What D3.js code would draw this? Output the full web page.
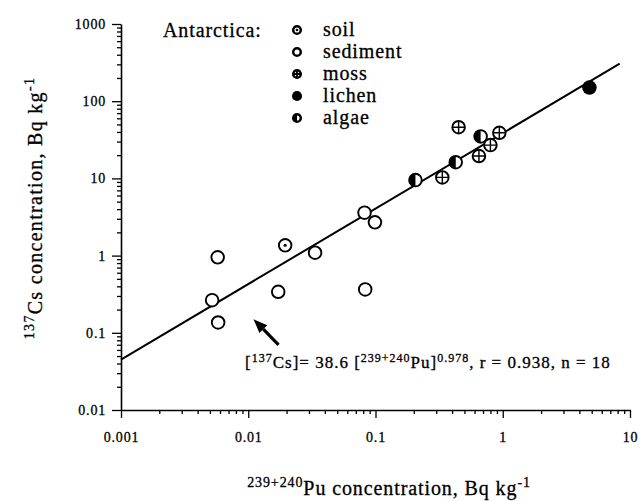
<!DOCTYPE html>
<html>
<head>
<meta charset="utf-8">
<script src="https://cdn.jsdelivr.net/npm/d3@7"></script>
<style>
  body { margin: 0; background: #fff; }
  svg { display: block; }
  svg text { font-family: "Liberation Serif", "DejaVu Serif", "Noto Serif", Times, serif;
             fill: #000; stroke: #000; stroke-width: 0.3px; }
</style>
</head>
<body>
<svg id="chart" width="640" height="501"></svg>
<script>
// Pu (x) and Cs (y) concentrations, Bq/kg
const soilPu = [0.0195];
const soilCs = [1.36];
const sedimentPu = [0.0052, 0.00575, 0.0058, 0.0172, 0.0335, 0.082, 0.099, 0.083];
const sedimentCs = [0.265, 0.95, 0.136, 0.34, 1.09, 3.6, 2.7, 0.365];
const mossPu = [0.335, 0.45, 0.65, 0.80, 0.94];
const mossCs = [10.3, 46, 19.5, 27, 39];
const lichenPu = [4.8];
const lichenCs = [150];
const algaePu = [0.206, 0.427, 0.67];
const algaeCs = [9.5, 16.2, 35];

const legendNames = ["soil", "sediment", "moss", "lichen", "algae"];
const xTicks = [0.001, 0.01, 0.1, 1, 10];
const xTickLabels = ["0.001", "0.01", "0.1", "1", "10"];
const yTicks = [0.01, 0.1, 1, 10, 100, 1000];
const yTickLabels = ["0.01", "0.1", "1", "10", "100", "1000"];

// regression [Cs] = a [Pu]^b
const fitA = 38.6, fitB = 0.978;
const fitRange = [0.001, 8.3];
// arrow pointing at the line (tail, tip) in data units
const arrowFrom = [0.0173, 0.07];
const arrowTo = [0.011, 0.15];

const svg = d3.select("#chart");
const x = d3.scaleLog().domain([0.001, 10]).range([121, 630]);
const y = d3.scaleLog().domain([0.01, 1000]).range([410, 24]);

function minorTicks(lo, hi) {
  let out = [];
  for (let e = lo; e < hi; e++) {
    for (let k = 2; k <= 9; k++) out.push(k * Math.pow(10, e));
  }
  return out;
}

// axes
const xAxis = svg.append("g").attr("transform", "translate(0,410)");
xAxis.call(d3.axisBottom(x).tickValues(xTicks).tickSize(8).tickSizeOuter(0)
  .tickFormat((d, i) => xTickLabels[i]));
xAxis.append("g").call(d3.axisBottom(x).tickValues(minorTicks(-3, 1)).tickSize(4).tickFormat(""))
  .select(".domain").remove();

const yAxis = svg.append("g").attr("transform", "translate(121,0)");
yAxis.call(d3.axisLeft(y).tickValues(yTicks).tickSize(9).tickSizeOuter(0)
  .tickFormat((d, i) => yTickLabels[i]));
yAxis.append("g").call(d3.axisLeft(y).tickValues(minorTicks(-2, 3)).tickSize(4).tickFormat(""))
  .select(".domain").remove();

svg.selectAll(".domain").attr("stroke", "#000").attr("stroke-width", 1.6);
svg.selectAll(".tick line").attr("stroke", "#000").attr("stroke-width", 1.3);
svg.selectAll("g").attr("font-family", null);
svg.selectAll(".tick text")
  .attr("font-size", 14)
  .attr("letter-spacing", 0.8);
xAxis.selectAll(".tick text").attr("dy", "1.5em");
yAxis.selectAll(".tick text").attr("x", -15);

// fit line
const line = d3.line().x(d => x(d)).y(d => y(fitA * Math.pow(d, fitB)));
svg.append("path")
  .attr("d", line(fitRange))
  .attr("fill", "none")
  .attr("stroke", "#000")
  .attr("stroke-width", 2);

// symbol drawing
function drawSymbol(g, kind, r, sw) {
  if (kind === "lichen") {
    g.append("circle").attr("r", r + sw / 2).attr("fill", "#000");
    return;
  }
  g.append("circle").attr("r", r).attr("fill", "#fff").attr("stroke", "#000").attr("stroke-width", sw);
  if (kind === "soil") {
    g.append("circle").attr("r", Math.max(1.3, r * 0.25)).attr("fill", "#000");
  } else if (kind === "moss") {
    g.append("path")
      .attr("d", `M${-r},0H${r}M0,${-r}V${r}`)
      .attr("stroke", "#000").attr("stroke-width", sw * 0.75);
  } else if (kind === "algae") {
    g.append("path")
      .attr("d", `M0,${-r}A${r},${r} 0 0 0 0,${r}Z`)
      .attr("fill", "#000");
  }
}

const groups = [
  { kind: "sediment", px: sedimentPu, cs: sedimentCs },
  { kind: "soil", px: soilPu, cs: soilCs },
  { kind: "moss", px: mossPu, cs: mossCs },
  { kind: "algae", px: algaePu, cs: algaeCs },
  { kind: "lichen", px: lichenPu, cs: lichenCs }
];

groups.forEach(grp => {
  grp.px.forEach((v, i) => {
    const g = svg.append("g").attr("transform", `translate(${x(v)},${y(grp.cs[i])})`);
    drawSymbol(g, grp.kind, 6.3, 1.9);
  });
});

// legend
const legend = svg.append("g").attr("font-size", 20).attr("letter-spacing", 0.9);
legend.append("text").attr("x", 163).attr("y", 37).text("Antarctica:");
legendNames.forEach((name, i) => {
  const yy = 30 + i * 22;
  const g = legend.append("g").attr("transform", `translate(297,${yy})`);
  drawSymbol(g, name, 3.8, 2.5);
  legend.append("text").attr("x", 323).attr("y", yy + 6).text(name);
});

// arrow
const ax0 = x(arrowFrom[0]), ay0 = y(arrowFrom[1]);
const ax1 = x(arrowTo[0]), ay1 = y(arrowTo[1]);
const ang = Math.atan2(ay1 - ay0, ax1 - ax0);
const headLen = 14, headW = 5.5;
const bx = ax1 - headLen * Math.cos(ang), by = ay1 - headLen * Math.sin(ang);
svg.append("line")
  .attr("x1", ax0).attr("y1", ay0).attr("x2", bx).attr("y2", by)
  .attr("stroke", "#000").attr("stroke-width", 3.2);
svg.append("path")
  .attr("d", `M${ax1},${ay1}L${bx + headW * Math.sin(ang)},${by - headW * Math.cos(ang)}L${bx - headW * Math.sin(ang)},${by + headW * Math.cos(ang)}Z`)
  .attr("fill", "#000");

// equation
const eq = svg.append("text").attr("x", 245).attr("y", 368).attr("font-size", 17).attr("letter-spacing", 1);
eq.append("tspan").text("[");
eq.append("tspan").attr("font-size", 12).attr("dy", -6).text("137");
eq.append("tspan").attr("dy", 6).text("Cs]= 38.6 [");
eq.append("tspan").attr("font-size", 12).attr("dy", -6).text("239+240");
eq.append("tspan").attr("dy", 6).text("Pu]");
eq.append("tspan").attr("font-size", 12).attr("dy", -6).text("0.978");
eq.append("tspan").attr("dy", 6).text(",  r = 0.938, n = 18");

// x title
const xt = svg.append("text").attr("x", 389).attr("y", 495).attr("text-anchor", "middle")
  .attr("font-size", 20).attr("letter-spacing", 0.9);
xt.append("tspan").attr("font-size", 14).attr("dy", -8).text("239+240");
xt.append("tspan").attr("dy", 8).text("Pu concentration, Bq kg");
xt.append("tspan").attr("font-size", 14).attr("dy", -8).text("-1");

// y title
const yt = svg.append("text").attr("transform", "translate(42,208) rotate(-90)")
  .attr("text-anchor", "middle").attr("font-size", 20).attr("letter-spacing", 1.3);
yt.append("tspan").attr("font-size", 14).attr("dy", -8).text("137");
yt.append("tspan").attr("dy", 8).text("Cs concentration, Bq kg");
yt.append("tspan").attr("font-size", 14).attr("dy", -8).text("-1");
</script>
</body>
</html>
